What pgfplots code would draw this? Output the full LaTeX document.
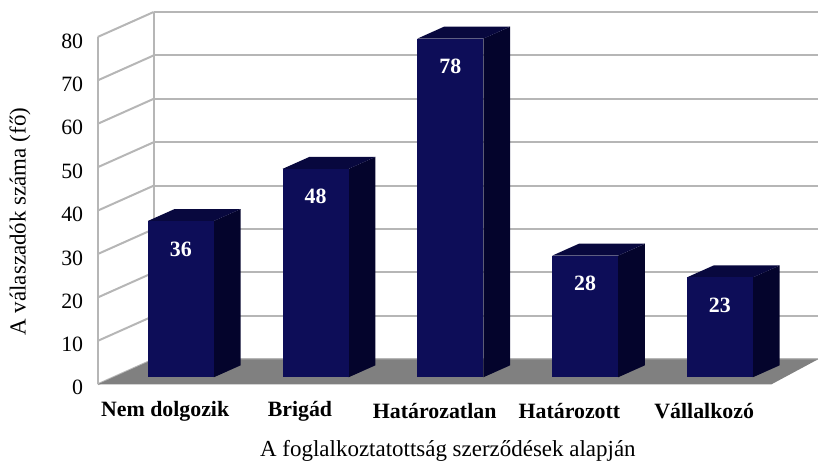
\documentclass[11pt,border=0pt]{standalone}
\usepackage{fontspec}
\setmainfont{Liberation Serif}
\usepackage{pgfplots}
\pgfplotsset{compat=1.18}
\definecolor{barfront}{RGB}{13,13,88}
\definecolor{barside}{RGB}{4,4,44}
\definecolor{bartop}{RGB}{8,8,62}
\definecolor{floorgray}{RGB}{128,128,128}
\definecolor{gridgray}{RGB}{182,182,182}
\newcommand{\cuboid}[3]{%
\addplot3[fill=barside,draw=none] coordinates {(#2,0.28,0) (#2,0.76,0) (#2,0.76,#3) (#2,0.28,#3)} -- cycle;
\addplot3[fill=bartop,draw=none] coordinates {(#1,0.28,#3) (#2,0.28,#3) (#2,0.76,#3) (#1,0.76,#3)} -- cycle;
\addplot3[fill=barfront,draw=none] coordinates {(#1,0.28,0) (#2,0.28,0) (#2,0.28,#3) (#1,0.28,#3)} -- cycle;
}
\begin{document}
\begin{tikzpicture}
\begin{axis}[
  x={(67.5pt,0pt)}, y={(28pt,12.5pt)}, z={(0pt,2.175pt)},
  xmin=0, xmax=4.93, ymin=0, ymax=1, zmin=0, zmax=80,
  clip=false,
  axis line style={draw=none},
  tick style={draw=none},
  ztick={0,10,...,80},
  ytick=\empty,
  xtick={0.5,1.5,2.5,3.5,4.5},
  xticklabels={Nem dolgozik, Brigád, Határozatlan, Határozott, Vállalkozó},
  xticklabel style={font=\bfseries, anchor=center, yshift=-13.5pt},
  zticklabel style={xshift=-3.5pt},
  zmajorgrids,
  major grid style={gridgray, line width=1pt},
  /pgf/number format/assume math mode=true,
  every axis z label/.style={at={([xshift=-39pt,yshift=-5.5pt]rel axis cs:0,0,0.5)}, rotate=90, anchor=center, font=\fontsize{11.5}{14}\selectfont},
  every axis x label/.style={at={([xshift=9pt,yshift=-33.5pt]rel axis cs:0.5,0,0)}, anchor=center, font=\fontsize{11.5}{14}\selectfont},
  zlabel={A válaszadók száma (fő)},
  xlabel={A foglalkoztatottság szerződések alapján},
]
\addplot3[fill=floorgray,draw=none] coordinates {(0,0,0) (5,0,0) (4.93,1,0) (0,1,0)} -- cycle;
\draw[gridgray, line width=1pt] (axis cs:0,0,0) -- (axis cs:0,0,80);
\draw[gridgray, line width=1pt] (axis cs:0,1,0) -- (axis cs:0,1,80);
\cuboid{0.255}{0.745}{36}
\cuboid{1.255}{1.745}{48}
\cuboid{2.255}{2.745}{78}
\cuboid{3.255}{3.745}{28}
\cuboid{4.255}{4.745}{23}
\addplot3[draw=none, nodes near coords, point meta=z,
  nodes near coords style={font=\bfseries, text=white, anchor=center, yshift=-14pt}]
  coordinates {(0.5,0.28,36) (1.5,0.28,48) (2.5,0.28,78) (3.5,0.28,28) (4.5,0.28,23)};
\pgfresetboundingbox
\path (axis cs:0,0,0) ++(-49pt,-39.5pt) rectangle ++(409.5pt,232pt);
\end{axis}
\end{tikzpicture}
\end{document}
